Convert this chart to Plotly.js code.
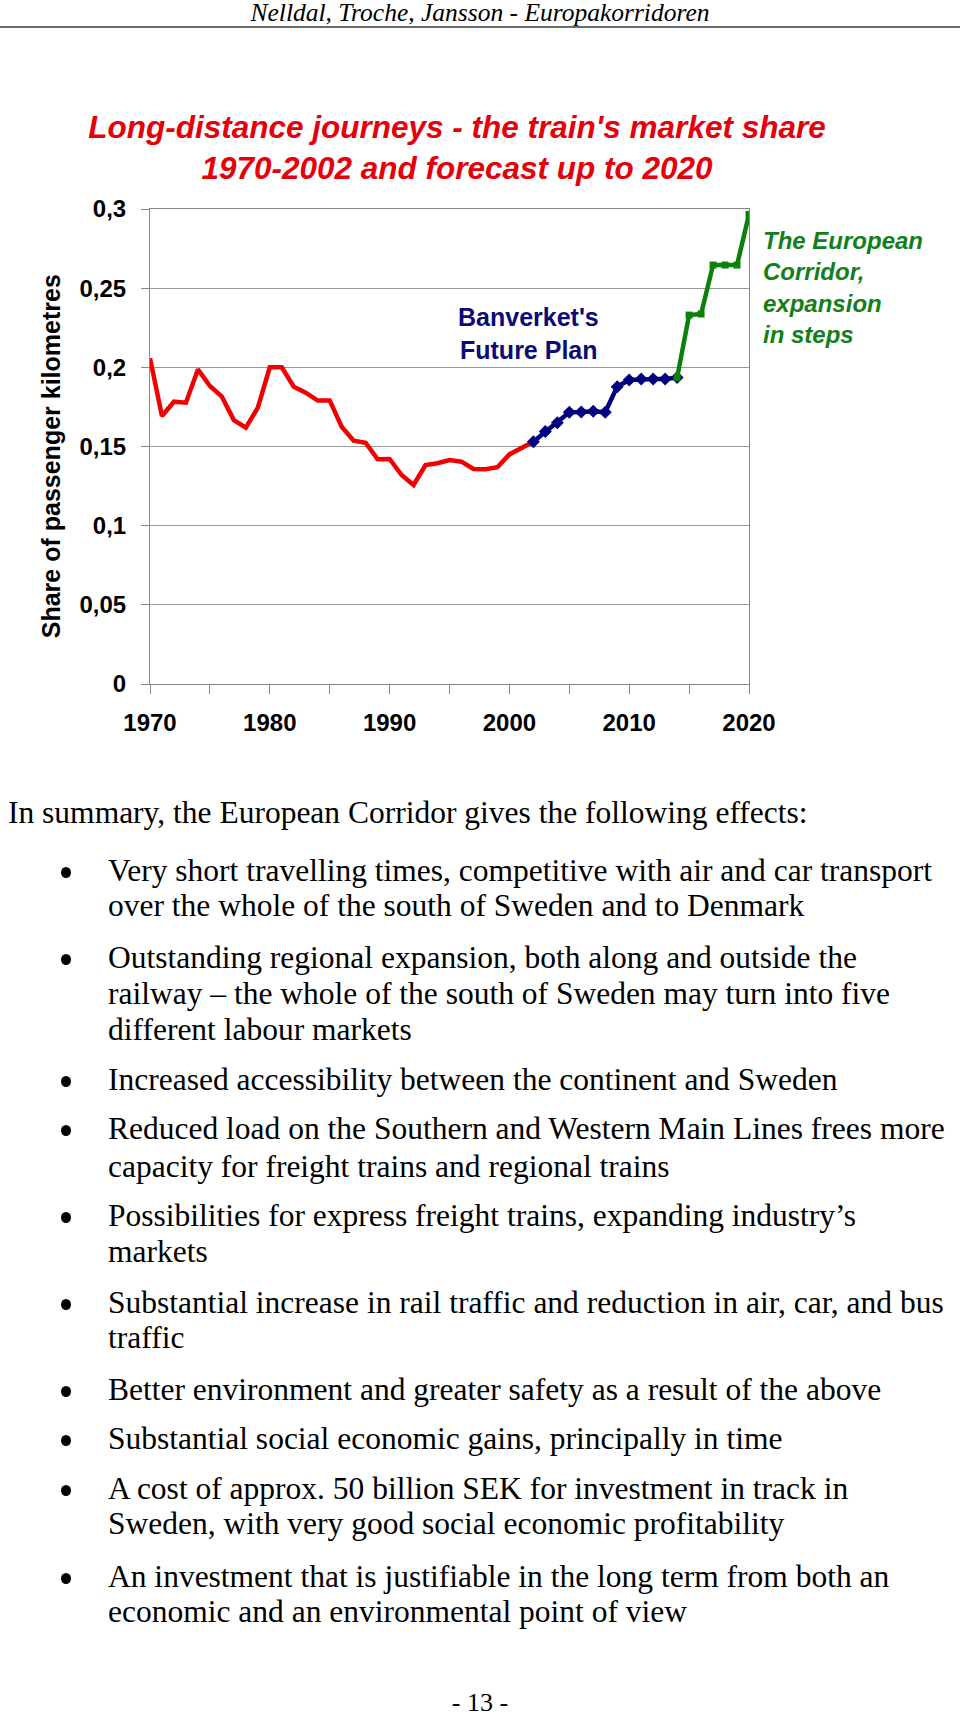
<!DOCTYPE html>
<html>
<head>
<meta charset="utf-8">
<script src="https://cdn.plot.ly/plotly-3.0.1.min.js"></script>
<style>
  html, body { margin: 0; padding: 0; background: #fff; }
  body { width: 960px; height: 1714px; position: relative; overflow: hidden; }
  .serif { font-family: "Liberation Serif", "Times New Roman", serif; color: #000; }
  #header { position: absolute; left: 0; width: 960px; top: -4px; text-align: center; font-style: italic; font-size: 25.5px; line-height: 34px; }
  #rule { position: absolute; left: 0; width: 960px; top: 26px; height: 0; border-top: 2px solid #6a6a6a; }
  #chart { position: absolute; left: 0; top: 0; width: 960px; height: 780px; }
  .line { position: absolute; white-space: nowrap; font-size: 31.5px; height: 36px; line-height: 36px; }
  .bullet { position: absolute; width: 10px; height: 11px; border-radius: 50%; background: #000; }
  #pagenum { position: absolute; left: 0; width: 960px; text-align: center; font-size: 26px; height: 36px; line-height: 36px; }
</style>
</head>
<body>
<div id="chart"></div>
<div id="header" class="serif">Nelldal, Troche, Jansson - Europakorridoren</div>
<div id="rule"></div>
<div id="text"></div>
<div id="pagenum" class="serif">- 13 -</div>
<script>
// ---------------- data ----------------
const yearsHistory = [1970,1971,1972,1973,1974,1975,1976,1977,1978,1979,1980,1981,1982,1983,1984,1985,1986,1987,1988,1989,1990,1991,1992,1993,1994,1995,1996,1997,1998,1999,2000,2001,2002];
const shareHistory = [0.2057,0.1693,0.1783,0.1777,0.1987,0.1882,0.1815,0.1667,0.1619,0.1745,0.2000,0.2000,0.1878,0.1840,0.1790,0.1791,0.1625,0.1537,0.1524,0.1419,0.1421,0.1320,0.1257,0.1383,0.1394,0.1415,0.1404,0.1358,0.1356,0.1369,0.1450,0.1490,0.1530];

const yearsPlan = [2002,2003,2004,2005,2006,2007,2008,2009,2010,2011,2012,2013,2014];
const sharePlan = [0.1530,0.1594,0.1650,0.1716,0.1718,0.1722,0.1716,0.1878,0.1920,0.1926,0.1926,0.1926,0.1935];

const yearsCorridor = [2014,2015,2016,2017,2018,2019,2020];
const shareCorridor = [0.1935,0.2330,0.2337,0.2646,0.2646,0.2646,0.2966];

const xTickVals = [1970,1975,1980,1985,1990,1995,2000,2005,2010,2015,2020];
const xTickText = ['1970','','1980','','1990','','2000','','2010','','2020'];
const yTickVals = [0,0.05,0.1,0.15,0.2,0.25,0.3];
const yTickText = ['0','0,05','0,1','0,15','0,2','0,25','0,3'];

const chartTitle = "Long-distance journeys - the train's market share<br>1970-2002 and forecast up to 2020";
const yTitle = "Share of passenger kilometres";
const planLabelLines = ["Banverket's", "Future Plan"];
const corridorLabelLines = ["The European", "Corridor,", "expansion", "in steps"];

const introText = "In summary, the European Corridor gives the following effects:";
const bulletItems = [
  ["Very short travelling times, competitive with air and car transport", "over the whole of the south of Sweden and to Denmark"],
  ["Outstanding regional expansion, both along and outside the", "railway \u2013 the whole of the south of Sweden may turn into five", "different labour markets"],
  ["Increased accessibility between the continent and Sweden"],
  ["Reduced load on the Southern and Western Main Lines frees more", "capacity for freight trains and regional trains"],
  ["Possibilities for express freight trains, expanding industry\u2019s", "markets"],
  ["Substantial increase in rail traffic and reduction in air, car, and bus", "traffic"],
  ["Better environment and greater safety as a result of the above"],
  ["Substantial social economic gains, principally in time"],
  ["A cost of approx. 50 billion SEK for investment in track in", "Sweden, with very good social economic profitability"],
  ["An investment that is justifiable in the long term from both an", "economic and an environmental point of view"]
];

// ---------------- chart ----------------
const SANS = "Liberation Sans, Arial, sans-serif";
const H = 780;
const traces = [
  { x: yearsHistory, y: shareHistory, type: 'scatter', mode: 'lines',
    line: { color: '#f00000', width: 4.5 }, hoverinfo: 'skip' },
  { x: yearsPlan, y: sharePlan, type: 'scatter', mode: 'lines+markers',
    line: { color: '#000080', width: 4.5 },
    marker: { symbol: 'diamond', size: 10, color: '#000080' }, hoverinfo: 'skip' },
  { x: yearsCorridor, y: shareCorridor, type: 'scatter', mode: 'lines+markers',
    line: { color: '#0b800b', width: 4.5 },
    marker: { symbol: 'square', size: 7, color: '#0b800b' }, hoverinfo: 'skip' }
];

const annotations = [
  { text: yTitle, xref: 'paper', yref: 'paper', x: -0.164, y: 0.479,
    xanchor: 'center', yanchor: 'middle', textangle: -90, showarrow: false,
    font: { family: SANS, size: 25, color: '#000', weight: 'bold' } }
];
planLabelLines.forEach((t, i) => {
  annotations.push({ text: t, xref: 'x', yref: 'y', x: 2001.6, y: 0.2215,
    yshift: 16.5 - 33 * i,
    xanchor: 'center', yanchor: 'middle', showarrow: false,
    font: { family: SANS, size: 25, color: '#0a0a78', weight: 'bold' } });
});
corridorLabelLines.forEach((t, i) => {
  annotations.push({ text: t, xref: 'paper', yref: 'y', x: 1.02, y: 0.2505,
    yshift: 47 - 31.4 * i,
    xanchor: 'left', yanchor: 'middle', align: 'left', showarrow: false,
    font: { family: SANS, size: 24, color: '#12801a', weight: 'bold', style: 'italic' } });
});

const layout = {
  width: 960, height: H,
  margin: { l: 150, r: 211, t: 209, b: H - 684 },
  paper_bgcolor: 'rgba(0,0,0,0)', plot_bgcolor: '#fff',
  showlegend: false,
  font: { family: SANS, color: '#000' },
  title: {
    text: chartTitle,
    font: { family: SANS, size: 31, color: '#e5000a', weight: 'bold', style: 'italic' },
    x: 457 / 960, xanchor: 'center', xref: 'container',
    y: 1 - 138 / H, yanchor: 'top', yref: 'container'
  },
  xaxis: {
    range: [1970, 2020], tickvals: xTickVals, ticktext: xTickText,
    showgrid: false, zeroline: false,
    showline: true, linecolor: '#888', linewidth: 1, mirror: true,
    ticks: 'outside', ticklen: 9, tickcolor: '#888', tickwidth: 1,
    ticklabelstandoff: 8,
    tickfont: { family: SANS, size: 24, color: '#000', weight: 'bold' }
  },
  yaxis: {
    range: [0, 0.3], tickvals: yTickVals, ticktext: yTickText,
    showgrid: true, gridcolor: '#999', gridwidth: 1, zeroline: false,
    showline: true, linecolor: '#888', linewidth: 1, mirror: true,
    ticks: 'outside', ticklen: 8, tickcolor: '#888', tickwidth: 1,
    ticklabelstandoff: 10,
    tickfont: { family: SANS, size: 24, color: '#000', weight: 'bold' }
  },
  annotations: annotations
};

Plotly.newPlot('chart', traces, layout, { staticPlot: true, displayModeBar: false });

// ---------------- text ----------------
const textDiv = document.getElementById('text');
const lineCenters = [
  [871, 906], [958, 994, 1030], [1080], [1129, 1167], [1216, 1252],
  [1303, 1338], [1390], [1439], [1489, 1524], [1577, 1612]
];
function addLine(txt, left, center) {
  const d = document.createElement('div');
  d.className = 'serif line';
  d.style.left = left + 'px';
  d.style.top = (center - 18) + 'px';
  d.textContent = txt;
  textDiv.appendChild(d);
  return d;
}
function addBullet(center) {
  const b = document.createElement('div');
  b.className = 'bullet';
  b.style.left = (66 - 5) + 'px';
  b.style.top = (center + 1 - 5.5) + 'px';
  textDiv.appendChild(b);
}
addLine(introText, 8, 813);
bulletItems.forEach((item, i) => {
  addBullet(lineCenters[i][0]);
  item.forEach((ln, j) => addLine(ln, 108, lineCenters[i][j]));
});
document.getElementById('pagenum').style.top = (1706 - 21) + 'px';
</script>
</body>
</html>
